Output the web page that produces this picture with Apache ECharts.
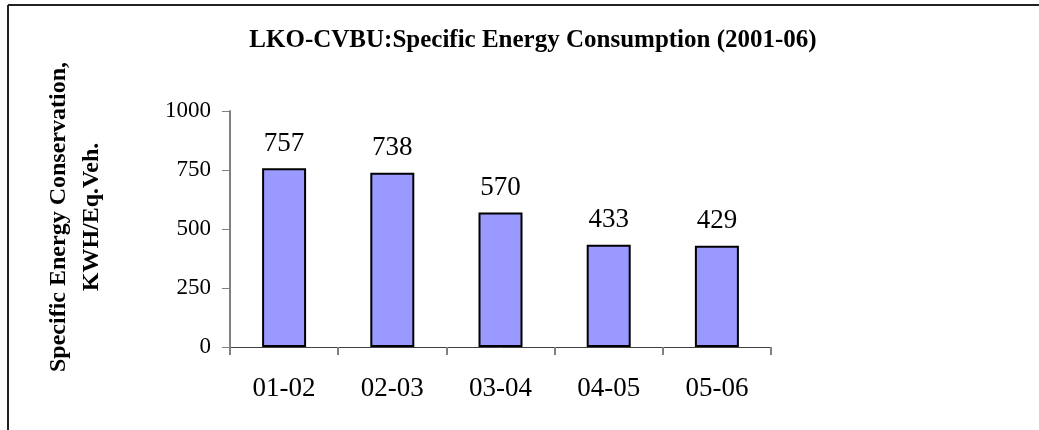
<!DOCTYPE html>
<html><head><meta charset="utf-8">
<script src="https://cdn.jsdelivr.net/npm/echarts@6/dist/echarts.min.js"></script>
<style>html,body{margin:0;padding:0;background:#fff}#c{width:1039px;height:430px}</style>
</head><body><div id="c"></div>
<script>
const categories = ['01-02', '02-03', '03-04', '04-05', '05-06'];
const values = [757, 738, 570, 433, 429];
const yTicks = [0, 250, 500, 750, 1000];
const titleText = 'LKO-CVBU:Specific Energy Consumption (2001-06)';
const yName = 'Specific Energy Conservation,\nKWH/Eq.Veh.';

const chart = echarts.init(document.getElementById('c'), null, {renderer: 'canvas'});
const serif = '"Liberation Serif", "Times New Roman", serif';
chart.setOption({
  animation: false,
  backgroundColor: '#fff',
  title: {
    text: titleText, left: 528, top: 23, textAlign: 'center',
    textStyle: {fontFamily: serif, fontWeight: 'bold', fontSize: 25, color: '#000'}
  },
  graphic: [
    {type: 'line', shape: {x1: 8, y1: 5, x2: 1039, y2: 5}, style: {stroke: '#222', lineWidth: 2}},
    {type: 'line', shape: {x1: 8, y1: 5, x2: 8, y2: 430}, style: {stroke: '#222', lineWidth: 2}}
  ],
  grid: {left: 230, top: 111, width: 541, height: 236, containLabel: false},
  xAxis: {
    type: 'category', data: categories,
    axisLine: {lineStyle: {color: '#404040', width: 1}},
    axisTick: {show: true, length: 8, lineStyle: {color: '#808080', width: 2}, alignWithLabel: false},
    axisLabel: {fontFamily: serif, fontSize: 27, color: '#000', margin: 28}
  },
  yAxis: {
    type: 'value', min: 0, max: 1000, interval: 250,
    splitLine: {show: false},
    axisLine: {show: true, lineStyle: {color: '#808080', width: 2}},
    axisTick: {show: true, length: 8, lineStyle: {color: '#808080', width: 1}},
    axisLabel: {fontFamily: serif, fontSize: 23, color: '#000', margin: 19,
      formatter: v => yTicks.includes(v) ? String(v) : ''},
    name: yName, nameLocation: 'middle', nameGap: 122, nameRotate: 90,
    nameTextStyle: {fontFamily: serif, fontWeight: 'bold', fontSize: 24, color: '#000', lineHeight: 33, align: 'center', padding: [0, 0, 0, 24]}
  },
  series: [{
    type: 'bar', data: values, barWidth: 44,
    itemStyle: {color: '#9999ff', borderColor: '#000', borderWidth: 2},
    label: {show: true, position: 'top', distance: 11, fontFamily: serif, fontSize: 27, color: '#000'}
  }]
});
</script></body></html>
